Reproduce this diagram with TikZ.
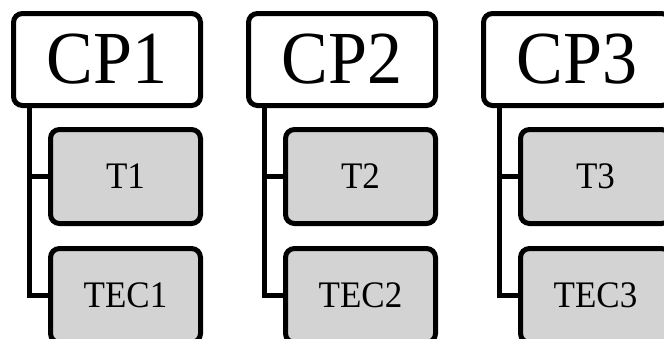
\documentclass[tikz,border=0pt]{standalone}
\usepackage{graphicx}
\usepackage{fontspec}
\setmainfont{Liberation Serif}
% labels are set slightly taller than the font's natural proportions
\newcommand{\tall}[1]{\scalebox{1}[1.07]{#1}}
\begin{document}
\begin{tikzpicture}[x=1pt,y=1pt,
  cpbox/.style={draw, line width=5pt, rounded corners=9pt, fill=white,
    minimum width=187pt, minimum height=92pt, inner sep=0pt,
    font=\fontsize{70}{74}\selectfont},
  subbox/.style={draw, line width=5pt, rounded corners=9pt, fill=boxgray,
    minimum width=150pt, minimum height=94pt, inner sep=0pt,
    font=\fontsize{35}{38}\selectfont},
  link/.style={line width=5pt}]
\definecolor{boxgray}{HTML}{D3D3D3}
\useasboundingbox (0,0) rectangle (664,-338);
\clip (0,0) rectangle (664,-338);
\foreach \i/\dx in {1/0, 2/235, 3/470} {
  \node[cpbox]  (cp\i)  at (107+\dx, -59.5) {\tall{CP\i}};
  \node[subbox] (t\i)   at (125.5+\dx, -176.5) {\tall{T\i}};
  \node[subbox] (tec\i) at (125.5+\dx, -295.5) {\tall{TEC\i}};
  \draw[link] ([xshift=18.5pt]cp\i.south west) |- (t\i.west);
  \draw[link] ([xshift=18.5pt]cp\i.south west) |- (tec\i.west);
}
\end{tikzpicture}
\end{document}
